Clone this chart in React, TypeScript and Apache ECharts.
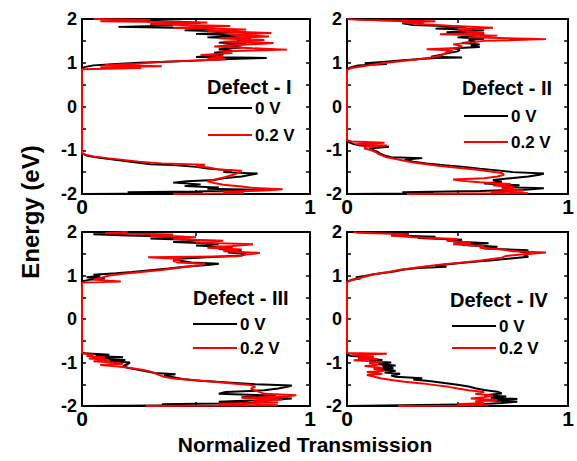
import React, { useEffect, useRef } from "react";
import * as echarts from "echarts";

// [energy (eV), normalized transmission]
const p1Black: [number, number][] = [
  [-2.0, 0], [-1.98, 0.53], [-1.96, 0.2], [-1.94, 0.5], [-1.91, 0.81], [-1.88, 0.55], [-1.85, 0.6], [-1.82, 0.45],
  [-1.78, 0.52], [-1.74, 0.4], [-1.71, 0.46], [-1.68, 0.58], [-1.64, 0.62], [-1.6, 0.7], [-1.56, 0.74], [-1.53, 0.77],
  [-1.5, 0.62], [-1.46, 0.66], [-1.42, 0.55], [-1.38, 0.5], [-1.34, 0.4], [-1.32, 0.3], [-1.28, 0.24], [-1.24, 0.18],
  [-1.2, 0.12], [-1.16, 0.06], [-1.12, 0.02], [-1.08, 0.005], [-1.05, 0],
  [0.85, 0], [0.9, 0.01], [0.94, 0.05], [0.97, 0.15], [1.0, 0.25], [1.03, 0.4], [1.06, 0.55], [1.09, 0.68], [1.11, 0.81],
  [1.13, 0.5], [1.15, 0.55], [1.19, 0.62], [1.23, 0.58], [1.27, 0.66], [1.31, 0.6], [1.35, 0.7], [1.39, 0.62], [1.43, 0.72],
  [1.46, 0.6], [1.49, 0.73], [1.52, 0.68], [1.55, 0.74], [1.58, 0.55], [1.62, 0.7], [1.66, 0.5], [1.7, 0.72], [1.74, 0.45],
  [1.78, 0.58], [1.82, 0.16], [1.85, 0.4], [1.88, 0.3], [1.91, 0.52], [1.94, 0.43], [1.97, 0.2], [2.0, 0.1],
];
const p1Red: [number, number][] = [
  [-2.0, 0.4], [-1.98, 0.71], [-1.95, 0.62], [-1.92, 0.8], [-1.89, 0.88], [-1.86, 0.75], [-1.83, 0.7], [-1.79, 0.62],
  [-1.75, 0.58], [-1.71, 0.55], [-1.66, 0.59], [-1.61, 0.63], [-1.55, 0.67], [-1.5, 0.69], [-1.47, 0.7], [-1.44, 0.6],
  [-1.4, 0.56], [-1.36, 0.5], [-1.33, 0.54], [-1.3, 0.35], [-1.26, 0.25], [-1.22, 0.18], [-1.18, 0.11], [-1.14, 0.05],
  [-1.1, 0.015], [-1.07, 0],
  [0.85, 0], [0.88, 0.26], [0.9, 0.08], [0.92, 0.35], [0.95, 0.1], [0.98, 0.25], [1.02, 0.35], [1.05, 0.5], [1.08, 0.63],
  [1.1, 0.55], [1.14, 0.62], [1.18, 0.52], [1.22, 0.66], [1.26, 0.6], [1.3, 0.9], [1.33, 0.75], [1.37, 0.58], [1.41, 0.7],
  [1.45, 0.84], [1.48, 0.62], [1.52, 0.8], [1.56, 0.6], [1.6, 0.82], [1.64, 0.65], [1.68, 0.83], [1.72, 0.55], [1.76, 0.72],
  [1.8, 0.4], [1.84, 0.65], [1.88, 0.3], [1.92, 0.55], [1.95, 0.08], [1.98, 0.3], [2.0, 0.05],
];
const p2Black: [number, number][] = [
  [-2.0, 0], [-1.98, 0.39], [-1.96, 0.25], [-1.93, 0.6], [-1.9, 0.82], [-1.87, 0.89], [-1.84, 0.7], [-1.8, 0.78],
  [-1.76, 0.62], [-1.72, 0.7], [-1.68, 0.66], [-1.64, 0.74], [-1.6, 0.82], [-1.56, 0.87], [-1.53, 0.89], [-1.5, 0.75],
  [-1.46, 0.68], [-1.42, 0.6], [-1.38, 0.53], [-1.34, 0.44], [-1.3, 0.36], [-1.26, 0.3], [-1.22, 0.26], [-1.18, 0.34],
  [-1.16, 0.2], [-1.12, 0.17], [-1.08, 0.15], [-1.04, 0.14], [-1.0, 0.12], [-0.96, 0.1], [-0.92, 0.19], [-0.89, 0.06],
  [-0.86, 0.03], [-0.82, 0.01], [-0.78, 0],
  [0.86, 0], [0.9, 0.02], [0.94, 0.05], [0.97, 0.18], [0.99, 0.08], [1.02, 0.16], [1.05, 0.24], [1.08, 0.32], [1.11, 0.4],
  [1.12, 0.52], [1.14, 0.38], [1.18, 0.42], [1.22, 0.46], [1.26, 0.5], [1.3, 0.51], [1.33, 0.48], [1.36, 0.6], [1.39, 0.56],
  [1.42, 0.6], [1.45, 0.52], [1.48, 0.58], [1.52, 0.55], [1.55, 0.62], [1.58, 0.5], [1.62, 0.58], [1.66, 0.62], [1.7, 0.45],
  [1.74, 0.62], [1.78, 0.4], [1.82, 0.54], [1.86, 0.3], [1.9, 0.25], [1.94, 0.35], [1.97, 0.15], [2.0, 0.05],
];
const p2Red: [number, number][] = [
  [-2.0, 0.27], [-1.98, 0.82], [-1.95, 0.65], [-1.92, 0.8], [-1.88, 0.7], [-1.85, 0.76], [-1.8, 0.66], [-1.77, 0.74],
  [-1.73, 0.6], [-1.7, 0.52], [-1.67, 0.48], [-1.64, 0.62], [-1.6, 0.68], [-1.56, 0.71], [-1.52, 0.7], [-1.48, 0.64],
  [-1.44, 0.58], [-1.4, 0.5], [-1.36, 0.42], [-1.32, 0.36], [-1.28, 0.3], [-1.24, 0.26], [-1.2, 0.22], [-1.16, 0.18],
  [-1.12, 0.16], [-1.08, 0.14], [-1.04, 0.13], [-1.0, 0.11], [-0.96, 0.08], [-0.92, 0.08], [-0.89, 0.18], [-0.86, 0.04],
  [-0.83, 0.17], [-0.8, 0.02], [-0.77, 0],
  [0.84, 0], [0.88, 0.02], [0.92, 0.07], [0.96, 0.12], [1.0, 0.18], [1.04, 0.25], [1.08, 0.32], [1.12, 0.38], [1.16, 0.42],
  [1.2, 0.44], [1.24, 0.45], [1.28, 0.48], [1.31, 0.36], [1.34, 0.5], [1.38, 0.52], [1.42, 0.48], [1.46, 0.55], [1.5, 0.62],
  [1.54, 0.9], [1.58, 0.55], [1.62, 0.68], [1.65, 0.42], [1.68, 0.62], [1.72, 0.55], [1.76, 0.5], [1.8, 0.66], [1.84, 0.48],
  [1.88, 0.35], [1.92, 0.25], [1.95, 0.4], [1.98, 0.05], [2.0, 0],
];
const p3Black: [number, number][] = [
  [-2.0, 0], [-1.98, 0.5], [-1.96, 0.35], [-1.93, 0.75], [-1.9, 0.6], [-1.86, 0.82], [-1.83, 0.92], [-1.8, 0.7],
  [-1.76, 0.85], [-1.72, 0.6], [-1.68, 0.63], [-1.64, 0.8], [-1.6, 0.86], [-1.56, 0.9], [-1.53, 0.92], [-1.5, 0.76],
  [-1.46, 0.64], [-1.42, 0.52], [-1.38, 0.44], [-1.34, 0.4], [-1.3, 0.36], [-1.27, 0.41], [-1.24, 0.32], [-1.2, 0.28],
  [-1.16, 0.24], [-1.12, 0.2], [-1.08, 0.18], [-1.04, 0.2], [-1.0, 0.21], [-0.97, 0.12], [-0.94, 0.19], [-0.91, 0.08],
  [-0.88, 0.18], [-0.85, 0.06], [-0.82, 0.12], [-0.79, 0.01], [-0.76, 0],
  [0.86, 0], [0.9, 0.03], [0.93, 0.1], [0.96, 0.02], [0.99, 0.08], [1.02, 0.05], [1.05, 0.15], [1.08, 0.22], [1.12, 0.3],
  [1.16, 0.38], [1.2, 0.45], [1.24, 0.55], [1.27, 0.6], [1.3, 0.48], [1.34, 0.43], [1.38, 0.4], [1.42, 0.55], [1.46, 0.7],
  [1.5, 0.72], [1.53, 0.64], [1.57, 0.7], [1.61, 0.6], [1.65, 0.66], [1.69, 0.5], [1.73, 0.6], [1.77, 0.4], [1.81, 0.52],
  [1.85, 0.3], [1.89, 0.45], [1.92, 0.2], [1.95, 0.05], [1.98, 0.3], [2.0, 0.08],
];
const p3Red: [number, number][] = [
  [-2.0, 0.28], [-1.98, 0.86], [-1.95, 0.6], [-1.92, 0.86], [-1.89, 0.75], [-1.85, 0.88], [-1.81, 0.7], [-1.78, 0.9],
  [-1.75, 0.94], [-1.72, 0.8], [-1.68, 0.78], [-1.64, 0.76], [-1.6, 0.74], [-1.56, 0.76], [-1.52, 0.74], [-1.48, 0.66],
  [-1.44, 0.58], [-1.4, 0.48], [-1.37, 0.4], [-1.33, 0.36], [-1.29, 0.34], [-1.25, 0.32], [-1.21, 0.3], [-1.17, 0.27],
  [-1.13, 0.22], [-1.09, 0.16], [-1.06, 0.08], [-1.03, 0.18], [-1.0, 0.14], [-0.97, 0.05], [-0.94, 0.12], [-0.91, 0.03],
  [-0.88, 0.1], [-0.85, 0.02], [-0.82, 0.05], [-0.79, 0],
  [0.84, 0], [0.86, 0.17], [0.88, 0.12], [0.91, 0.05], [0.94, 0.08], [0.97, 0.1], [1.0, 0.12], [1.04, 0.18], [1.08, 0.26],
  [1.12, 0.34], [1.16, 0.4], [1.2, 0.46], [1.24, 0.52], [1.27, 0.54], [1.3, 0.42], [1.34, 0.4], [1.38, 0.44], [1.42, 0.29],
  [1.44, 0.68], [1.48, 0.72], [1.52, 0.78], [1.56, 0.62], [1.6, 0.7], [1.64, 0.55], [1.68, 0.66], [1.72, 0.75], [1.76, 0.5],
  [1.8, 0.62], [1.84, 0.4], [1.88, 0.5], [1.91, 0.3], [1.94, 0.4], [1.97, 0.1], [2.0, 0.2],
];
const p4Black: [number, number][] = [
  [-2.0, 0], [-1.98, 0.25], [-1.96, 0.6], [-1.93, 0.7], [-1.9, 0.77], [-1.87, 0.62], [-1.84, 0.77], [-1.81, 0.65],
  [-1.78, 0.72], [-1.75, 0.62], [-1.71, 0.7], [-1.67, 0.68], [-1.63, 0.62], [-1.59, 0.58], [-1.55, 0.55], [-1.51, 0.5],
  [-1.47, 0.44], [-1.43, 0.38], [-1.39, 0.3], [-1.36, 0.34], [-1.33, 0.22], [-1.3, 0.2], [-1.26, 0.24], [-1.23, 0.17],
  [-1.19, 0.22], [-1.16, 0.14], [-1.13, 0.21], [-1.1, 0.16], [-1.07, 0.22], [-1.04, 0.14], [-1.0, 0.2], [-0.97, 0.1],
  [-0.94, 0.16], [-0.91, 0.05], [-0.88, 0.12], [-0.85, 0.02], [-0.82, 0],
  [0.86, 0], [0.9, 0.02], [0.93, 0.06], [0.96, 0.04], [0.99, 0.08], [1.03, 0.12], [1.07, 0.18], [1.1, 0.22], [1.13, 0.25],
  [1.17, 0.32], [1.2, 0.45], [1.23, 0.4], [1.27, 0.48], [1.31, 0.56], [1.35, 0.66], [1.39, 0.74], [1.43, 0.82], [1.47, 0.8],
  [1.51, 0.83], [1.55, 0.78], [1.58, 0.82], [1.62, 0.62], [1.66, 0.68], [1.7, 0.52], [1.74, 0.64], [1.78, 0.48], [1.82, 0.52],
  [1.86, 0.32], [1.89, 0.4], [1.92, 0.2], [1.96, 0.28], [2.0, 0.05],
];
const p4Red: [number, number][] = [
  [-2.0, 0.23], [-1.98, 0.64], [-1.96, 0.5], [-1.93, 0.62], [-1.89, 0.58], [-1.86, 0.68], [-1.83, 0.56], [-1.8, 0.62],
  [-1.76, 0.66], [-1.72, 0.58], [-1.68, 0.62], [-1.64, 0.55], [-1.6, 0.5], [-1.56, 0.46], [-1.52, 0.4], [-1.48, 0.34],
  [-1.44, 0.26], [-1.4, 0.2], [-1.36, 0.15], [-1.32, 0.12], [-1.29, 0.09], [-1.26, 0.16], [-1.22, 0.09], [-1.19, 0.17],
  [-1.15, 0.12], [-1.12, 0.16], [-1.08, 0.08], [-1.05, 0.14], [-1.01, 0.1], [-0.98, 0.16], [-0.95, 0.03], [-0.92, 0.14],
  [-0.89, 0.05], [-0.86, 0.12], [-0.83, 0.02], [-0.8, 0.18], [-0.78, 0],
  [0.85, 0], [0.89, 0.02], [0.93, 0.05], [0.97, 0.08], [1.01, 0.11], [1.05, 0.15], [1.09, 0.2], [1.13, 0.24], [1.17, 0.3],
  [1.21, 0.36], [1.25, 0.42], [1.29, 0.5], [1.33, 0.58], [1.37, 0.64], [1.41, 0.7], [1.45, 0.72], [1.49, 0.8], [1.53, 0.9],
  [1.56, 0.75], [1.6, 0.7], [1.64, 0.6], [1.68, 0.62], [1.72, 0.48], [1.76, 0.56], [1.8, 0.45], [1.84, 0.5], [1.88, 0.3],
  [1.92, 0.2], [1.95, 0.28], [1.98, 0.05], [2.0, 0.03],
];

const panelNames = ["Defect - I", "Defect - II", "Defect - III", "Defect - IV"];
const seriesNames = ["0 V", "0.2 V"];
const seriesColors = ["#000000", "#ff0000"];
const panelData = [
  [p1Black, p1Red],
  [p2Black, p2Red],
  [p3Black, p3Red],
  [p4Black, p4Red],
];
const yTickLabels = [-2, -1, 0, 1, 2];
const xTickLabels = [0, 1];

const FONT = "'Liberation Sans', Arial, Helvetica, sans-serif";

// layout (px)
const grids = [
  { left: 82, top: 19, width: 228, height: 175 },
  { left: 347, top: 19, width: 227, height: 175 },
  { left: 82, top: 232, width: 228, height: 174 },
  { left: 347, top: 232, width: 227, height: 174 },
];
const legendPos = [
  { tx: 207, ty: 87, lx: 208, l1y: 108, l2y: 135 },
  { tx: 462, ty: 88, lx: 464, l1y: 116, l2y: 142 },
  { tx: 193, ty: 298, lx: 193, l1y: 324, l2y: 348 },
  { tx: 450, ty: 300, lx: 452, l1y: 326, l2y: 348 },
];

export default function App() {
  const ref = useRef<HTMLDivElement>(null);
  useEffect(() => {
    if (!ref.current) return;
    const chart = echarts.init(ref.current, undefined, { renderer: "svg" });
    const xAxis: any[] = [];
    const yAxis: any[] = [];
    const series: any[] = [];
    const graphic: any[] = [];
    grids.forEach((g, i) => {
      const tick = { show: true, inside: true, length: 4, lineStyle: { color: "#000", width: 1.5 } };
      const line = { show: true, onZero: false, lineStyle: { color: "#000", width: 2 } };
      xAxis.push({
        type: "value", gridIndex: i, min: 0, max: 1, interval: 0.5, position: "bottom",
        axisLine: line, axisTick: tick, splitLine: { show: false },
        axisLabel: {
          show: true, color: "#000", fontFamily: FONT, fontWeight: "bold", fontSize: 21, margin: 2,
          showMinLabel: true, showMaxLabel: true,
          formatter: (v: number) => (xTickLabels.includes(v) ? String(v) : ""),
        },
      });
      xAxis.push({
        type: "value", gridIndex: i, min: 0, max: 1, interval: 0.5, position: "top",
        axisLine: line, axisTick: tick, splitLine: { show: false }, axisLabel: { show: false },
      });
      yAxis.push({
        type: "value", gridIndex: i, min: -2, max: 2, interval: 0.5, position: "left",
        axisLine: line, axisTick: tick, splitLine: { show: false },
        axisLabel: {
          show: true, color: "#000", fontFamily: FONT, fontWeight: "bold", fontSize: 18, margin: 5,
          showMinLabel: true, showMaxLabel: true,
          formatter: (v: number) => (yTickLabels.includes(v) ? String(v) : ""),
        },
      });
      yAxis.push({
        type: "value", gridIndex: i, min: -2, max: 2, interval: 0.5, position: "right",
        axisLine: line, axisTick: tick, splitLine: { show: false }, axisLabel: { show: false },
      });
      panelData[i].forEach((d, k) => {
        series.push({
          type: "line", name: seriesNames[k], xAxisIndex: i * 2, yAxisIndex: i * 2,
          data: d.map(([e, t]) => [t, e]), showSymbol: false, symbol: "none",
          lineStyle: { color: seriesColors[k], width: 2 }, z: 2 + k,
        });
      });
      const lp = legendPos[i];
      graphic.push({
        type: "text", x: lp.tx, y: lp.ty,
        style: {
          text: panelNames[i], fontFamily: FONT, fontWeight: "bold", fontSize: 20, fill: "#000",
          align: "left", verticalAlign: "middle",
        },
      });
      [lp.l1y, lp.l2y].forEach((y, k) => {
        graphic.push({
          type: "line", shape: { x1: lp.lx, y1: y, x2: lp.lx + 44, y2: y },
          style: { stroke: seriesColors[k], lineWidth: 2 },
        });
        graphic.push({
          type: "text", x: lp.lx + 47, y: y,
          style: {
            text: seriesNames[k], fontFamily: FONT, fontWeight: "bold", fontSize: 17, fill: "#000",
            align: "left", verticalAlign: "middle",
          },
        });
      });
    });
    graphic.push({
      type: "text", x: 30, y: 212, rotation: Math.PI / 2,
      style: {
        text: "Energy (eV)", fontFamily: FONT, fontWeight: "bold", fontSize: 24, fill: "#000",
        align: "center", verticalAlign: "middle",
      },
    });
    graphic.push({
      type: "text", x: 305, y: 444,
      style: {
        text: "Normalized Transmission", fontFamily: FONT, fontWeight: "bold", fontSize: 21, fill: "#000",
        align: "center", verticalAlign: "middle",
      },
    });
    chart.setOption({
      animation: false,
      backgroundColor: "#fff",
      grid: grids.map((g) => ({ ...g, containLabel: false })),
      xAxis, yAxis, series, graphic,
    });
    return () => chart.dispose();
  }, []);
  return <div ref={ref} style={{ position: "absolute", left: 0, top: 0, width: 577, height: 461 }} />;
}
